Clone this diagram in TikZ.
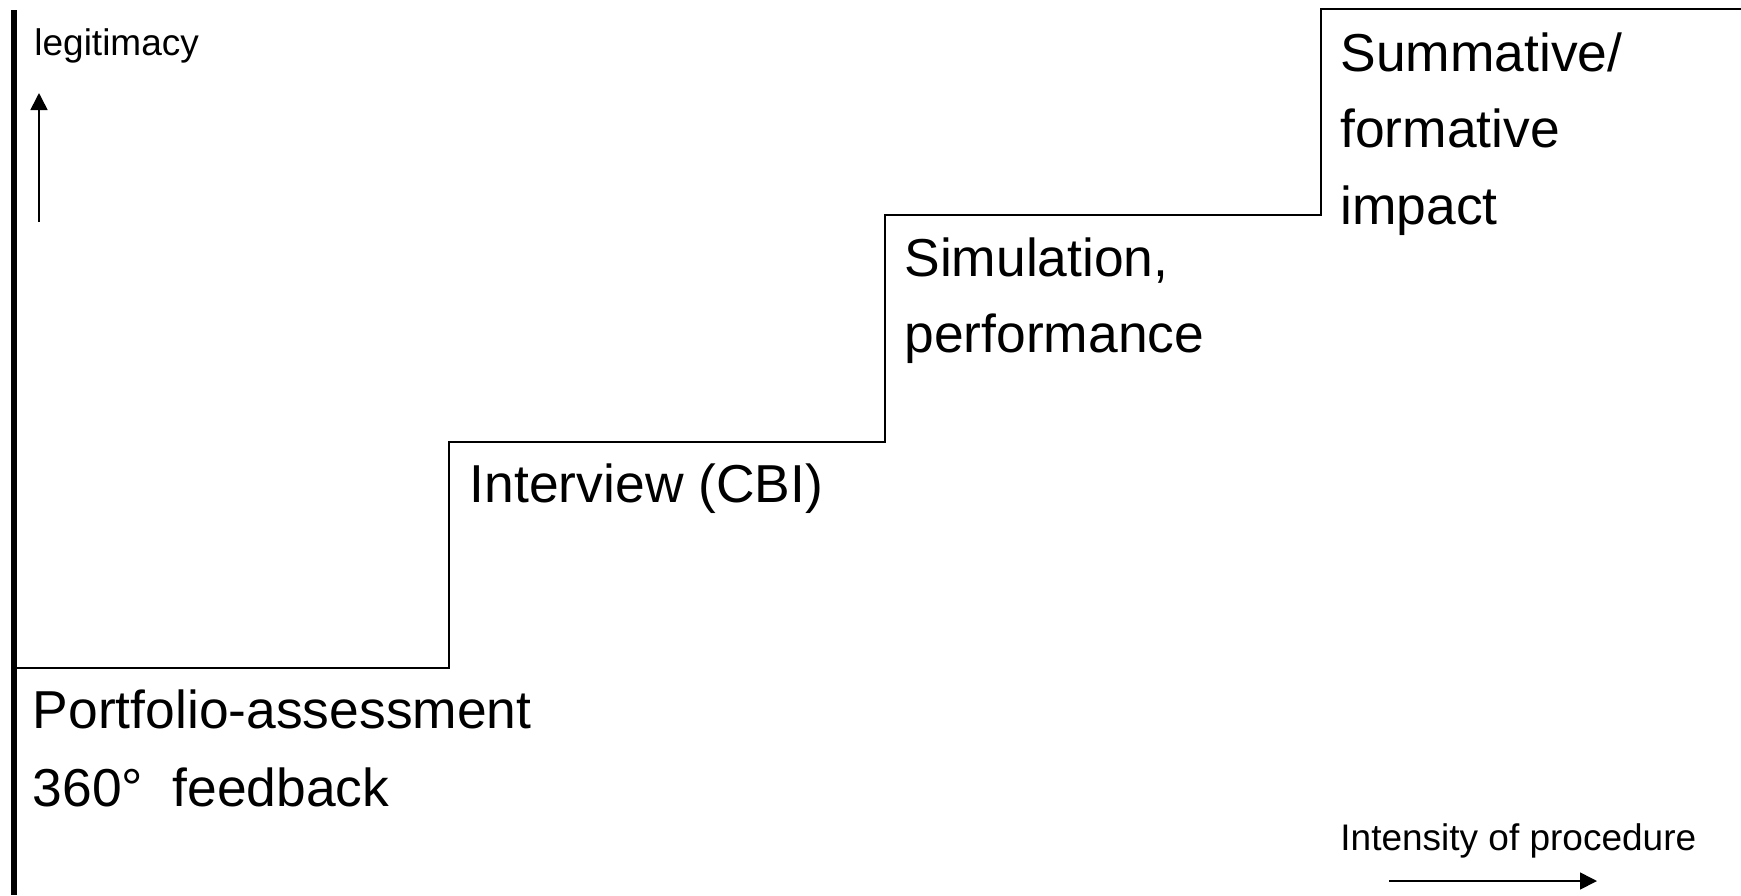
\documentclass[tikz,border=0pt]{standalone}
\usepackage{fontspec}
\setmainfont{Liberation Sans}
\usetikzlibrary{arrows.meta}
\tikzset{
  big/.style={anchor=base west, inner sep=0pt, font=\fontsize{26.7}{32}\selectfont},
  small/.style={anchor=base west, inner sep=0pt, font=\fontsize{18.5}{22}\selectfont},
  stair/.style={line width=1pt, line join=miter},
  axisbar/.style={line width=3.2pt},
  thinarrow/.style={line width=0.8pt, -{Triangle[width=8.5pt,length=8.5pt]}}
}
\begin{document}
\begin{tikzpicture}[x=0.5pt,y=-0.5pt]
\useasboundingbox (0,0) rectangle (1741,895);
% axis bar
\coordinate (bartop) at (14,10);
\coordinate (barbot) at (14,895);
\draw[axisbar] (bartop) -- (barbot);
% staircase
\coordinate (s0) at (14,668);
\coordinate (s1) at (449,668);
\coordinate (s2) at (449,442);
\coordinate (s3) at (885,442);
\coordinate (s4) at (885,215);
\coordinate (s5) at (1321,215);
\coordinate (s6) at (1321,9);
\coordinate (s7) at (1745,9);
\draw[stair] (s0) -- (s1) -- (s2) -- (s3) -- (s4) -- (s5) -- (s6) -- (s7);
% labels
\node[small] (legit) at (34,55) {legitimacy};
\coordinate (upA) at (39,222);
\coordinate (upB) at (39,93);
\draw[thinarrow] (upA) -- (upB);
\node[small] (intens) at (1340,850) {Intensity of procedure};
\coordinate (rtA) at (1389,881);
\coordinate (rtB) at (1597,881);
\draw[thinarrow] (rtA) -- (rtB);
\node[big] (port1) at (32.5,728) {Portfolio-assessment};
\node[big] (port2) at (32.5,806) {360°\hspace{0.55em}feedback};
\node[big] (intv) at (469.5,502) {Interview (CBI)};
\node[big] (sim1) at (904,276) {Simulation,};
\node[big] (sim2) at (904,352) {performance};
\node[big] (sum1) at (1340,71) {Summative/};
\node[big] (sum2) at (1340,147) {formative};
\node[big] (sum3) at (1340,224) {impact};
\end{tikzpicture}
\end{document}
